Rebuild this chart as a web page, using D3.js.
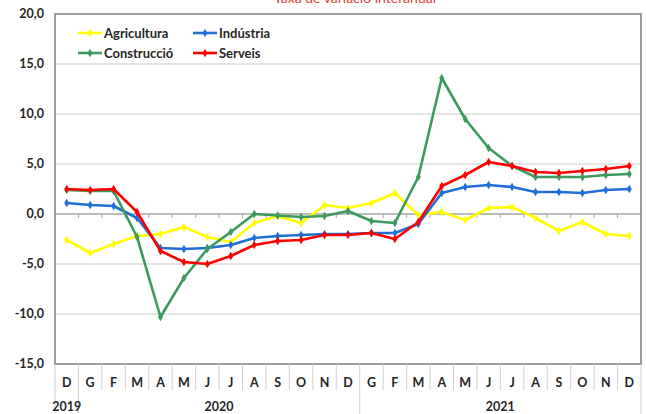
<!DOCTYPE html>
<html>
<head>
<meta charset="utf-8">
<script src="https://cdn.jsdelivr.net/npm/d3@7"></script>
<style>
  body { margin: 0; background: #fff; }
  svg { display: block; font-family: Lato, 'Open Sans', sans-serif; }
</style>
</head>
<body>
<div id="chart"></div>
<script>
const months = ['D', 'G', 'F', 'M', 'A', 'M', 'J', 'J', 'A', 'S', 'O', 'N', 'D',
  'G', 'F', 'M', 'A', 'M', 'J', 'J', 'A', 'S', 'O', 'N', 'D'];
const yearLabels = ['2019', '2020', '2021'];
const yearCounts = [1, 12, 12];

const agricultura = [-2.6, -3.9, -3.0, -2.2, -2.0, -1.3, -2.3, -2.8, -0.9, -0.2, -0.9, 0.9, 0.6,
  1.1, 2.1, -0.1, 0.2, -0.6, 0.6, 0.7, -0.4, -1.7, -0.8, -2.0, -2.2];
const industria = [1.1, 0.9, 0.8, -0.4, -3.4, -3.5, -3.4, -3.1, -2.4, -2.2, -2.1, -2.0, -2.0,
  -1.9, -1.9, -1.0, 2.1, 2.7, 2.9, 2.7, 2.2, 2.2, 2.1, 2.4, 2.5];
const construccio = [2.4, 2.3, 2.3, -2.3, -10.3, -6.4, -3.5, -1.8, 0.0, -0.15, -0.3, -0.2, 0.3,
  -0.7, -0.9, 3.7, 13.6, 9.5, 6.6, 4.8, 3.7, 3.7, 3.7, 3.9, 4.0];
const serveis = [2.5, 2.4, 2.5, 0.2, -3.7, -4.8, -5.0, -4.2, -3.1, -2.7, -2.6, -2.1, -2.1,
  -1.9, -2.5, -0.8, 2.8, 3.9, 5.2, 4.8, 4.2, 4.1, 4.3, 4.5, 4.8];
const yTicks = [-15, -10, -5, 0, 5, 10, 15, 20];

const series = [
  { name: 'Agricultura', values: agricultura, color: '#ffff00' },
  { name: 'Indústria', values: industria, color: '#1f6fd6' },
  { name: 'Construcció', values: construccio, color: '#3d9a5e' },
  { name: 'Serveis', values: serveis, color: '#ff0000' }
];

const width = 646;
const height = 414;
const plotLeft = 55, plotRight = 641, plotTop = 14, plotBottom = 364;

const svg = d3.select('#chart').append('svg')
  .attr('width', width)
  .attr('height', height);

const x = d3.scaleBand().domain(d3.range(months.length)).range([plotLeft, plotRight]);
const y = d3.scaleLinear().domain([-15, 20]).range([plotBottom, plotTop]);
const fmt = d3.formatLocale({ decimal: ',', thousands: '.', grouping: [3], currency: ['', ''], minus: '-' }).format('.1f');

// title (cut off at the top)
svg.append('text')
  .attr('x', 355).attr('y', 2.5)
  .attr('text-anchor', 'middle')
  .attr('fill', '#e03a3a')
  .style('font-size', '14px')
  .text('Taxa de variació interanual');

// gridlines
svg.append('g')
  .selectAll('line')
  .data(yTicks.filter((d) => d !== 0 && d !== 20 && d !== -15))
  .enter().append('line')
  .attr('x1', plotLeft).attr('x2', plotRight)
  .attr('y1', (d) => y(d)).attr('y2', (d) => y(d))
  .attr('stroke', '#dcdcdc')
  .attr('stroke-width', 1.5);

// zero axis with small ticks
svg.append('line')
  .attr('x1', plotLeft).attr('x2', plotRight)
  .attr('y1', y(0)).attr('y2', y(0))
  .attr('stroke', '#a6a6a6').attr('stroke-width', 1.5);
svg.append('g')
  .selectAll('line')
  .data(d3.range(1, months.length))
  .enter().append('line')
  .attr('x1', (i) => x(i)).attr('x2', (i) => x(i))
  .attr('y1', y(0)).attr('y2', y(0) + 4)
  .attr('stroke', '#a6a6a6');

// frame
svg.append('rect')
  .attr('x', plotLeft).attr('y', plotTop)
  .attr('width', plotRight - plotLeft).attr('height', plotBottom - plotTop)
  .attr('fill', 'none')
  .attr('stroke', '#858585')
  .attr('stroke-width', 1.6);

// y labels
svg.append('g')
  .selectAll('text')
  .data(yTicks)
  .enter().append('text')
  .attr('x', 44).attr('y', (d) => y(d) + 4)
  .attr('text-anchor', 'end')
  .attr('fill', '#262626')
  .style('font-size', '12.5px')
  .style('font-weight', 'bold')
  .text((d) => fmt(d));

// category separators
const yearStarts = [0];
yearCounts.forEach((c, i) => yearStarts.push(yearStarts[i] + c));
svg.append('g')
  .selectAll('line')
  .data(d3.range(0, months.length + 1))
  .enter().append('line')
  .attr('x1', (i) => (i < months.length ? x(i) : plotRight))
  .attr('x2', (i) => (i < months.length ? x(i) : plotRight))
  .attr('y1', plotBottom)
  .attr('y2', (i) => (yearStarts.includes(i) ? height : 390))
  .attr('stroke', '#d0d0d0')
  .attr('stroke-width', 1);

// month labels
svg.append('g')
  .selectAll('text')
  .data(months)
  .enter().append('text')
  .attr('x', (d, i) => x(i) + x.bandwidth() / 2)
  .attr('y', 387)
  .attr('text-anchor', 'middle')
  .attr('fill', '#262626')
  .style('font-size', '12.5px')
  .style('font-weight', 'bold')
  .text((d) => d);

// year labels
svg.append('g')
  .selectAll('text')
  .data(yearLabels)
  .enter().append('text')
  .attr('x', (d, i) => {
    const s = x(yearStarts[i]);
    const e = yearStarts[i + 1] < months.length ? x(yearStarts[i + 1]) : plotRight;
    return (s + e) / 2;
  })
  .attr('y', 411)
  .attr('text-anchor', 'middle')
  .attr('fill', '#262626')
  .style('font-size', '12.5px')
  .style('font-weight', 'bold')
  .text((d) => d);

// lines
const line = d3.line()
  .x((d, i) => x(i) + x.bandwidth() / 2)
  .y((d) => y(d));

const diamond = d3.symbol().type(d3.symbolDiamond).size(22);

series.forEach(function (s) {
  const g = svg.append('g');
  g.append('path')
    .attr('d', line(s.values))
    .attr('fill', 'none')
    .attr('stroke', s.color)
    .attr('stroke-width', 2.6)
    .attr('stroke-linejoin', 'round');
  g.selectAll('path.m')
    .data(s.values)
    .enter().append('path')
    .attr('class', 'm')
    .attr('d', diamond)
    .attr('transform', (d, i) => `translate(${x(i) + x.bandwidth() / 2},${y(d)})`)
    .attr('fill', s.color);
});

// legend
const legendPos = [[78, 33], [193, 33], [78, 53], [193, 53]];
series.forEach(function (s, i) {
  const [lx, ly] = legendPos[i];
  const g = svg.append('g').attr('transform', `translate(${lx},${ly})`);
  g.append('line')
    .attr('x1', 0).attr('x2', 24)
    .attr('stroke', s.color).attr('stroke-width', 2.6);
  g.append('path')
    .attr('d', diamond)
    .attr('transform', 'translate(12,0)')
    .attr('fill', s.color);
  g.append('text')
    .attr('x', 26).attr('y', 4.5)
    .attr('fill', '#262626')
    .style('font-size', '13px')
    .style('font-weight', 'bold')
    .text(s.name);
});
</script>
</body>
</html>
